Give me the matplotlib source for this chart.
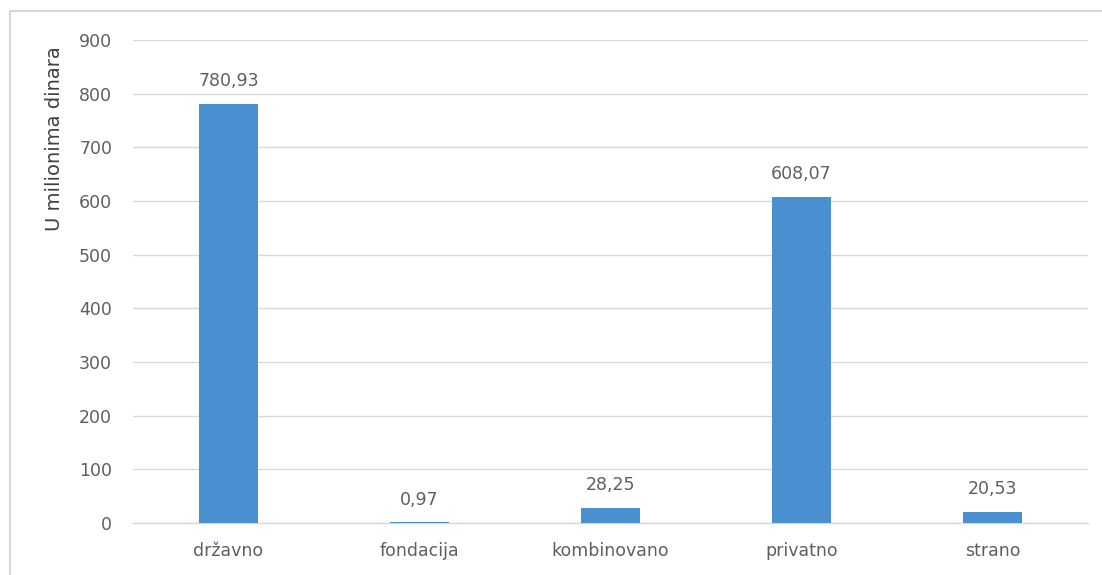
import matplotlib
matplotlib.use("Agg")
import matplotlib.pyplot as plt
from matplotlib.patches import Rectangle

categories = ["državno", "fondacija", "kombinovano", "privatno", "strano"]
values = [780.93, 0.97, 28.25, 608.07, 20.53]
value_labels = ["780,93", "0,97", "28,25", "608,07", "20,53"]
y_ticks = [0, 100, 200, 300, 400, 500, 600, 700, 800, 900]

plt.rcParams["font.family"] = ["DejaVu Sans"]

bar_color = "#4a8fd0"
text_color = "#5f5f5f"
grid_color = "#d9d9d9"

fig = plt.figure(figsize=(11.02, 5.75), dpi=100)
fig.patch.set_facecolor("white")

# thin outer frame of the chart area
fig.add_artist(Rectangle((10 / 1102, -0.05), 1.2, (575 - 11) / 575 + 0.05,
                         transform=fig.transFigure, fill=False,
                         edgecolor="#d0d0d0", linewidth=1.2))

ax = fig.add_axes([133 / 1102, 52 / 575, (1088 - 133) / 1102, (535 - 52) / 575])
x = range(len(categories))
ax.bar(x, values, width=0.31, color=bar_color, zorder=3)

ax.set_xlim(-0.5, len(categories) - 0.5)
ax.set_ylim(0, 900)
ax.set_yticks(y_ticks)
ax.set_yticklabels([str(t) for t in y_ticks])
ax.set_xticks(list(x))
ax.set_xticklabels(categories)

ax.grid(axis="y", color=grid_color, linewidth=1.0, zorder=0)
ax.set_axisbelow(True)
for side in ["top", "right", "left"]:
    ax.spines[side].set_visible(False)
ax.spines["bottom"].set_color(grid_color)
ax.spines["bottom"].set_linewidth(1.0)

ax.tick_params(axis="y", length=0, pad=15, labelsize=12.5, labelcolor=text_color)
ax.tick_params(axis="x", length=0, pad=14, labelsize=12.5, labelcolor=text_color)

for xi, v, lab in zip(x, values, value_labels):
    ax.annotate(lab, (xi, v), xytext=(0, 10), textcoords="offset points",
                ha="center", va="bottom", fontsize=12.5, color=text_color)

fig.text(55 / 1102, 1 - 139 / 575, "U milionima dinara", rotation=90,
         ha="center", va="center", fontsize=14, color="#404040")

fig.savefig("out.png", dpi=100)
